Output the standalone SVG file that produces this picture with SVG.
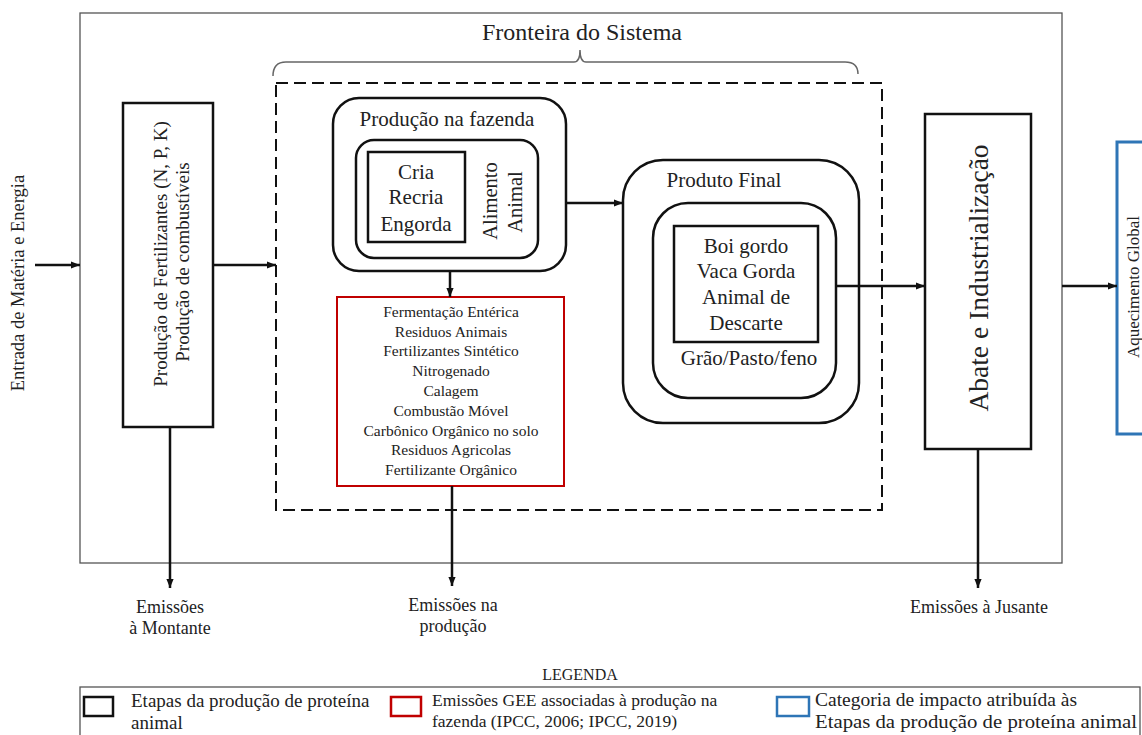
<svg xmlns="http://www.w3.org/2000/svg" width="1142" height="735" viewBox="0 0 1142 735">
<style>
text{font-family:"Liberation Serif","Times New Roman",serif;fill:#222}
.box{fill:none;stroke:#111;stroke-width:2.5}
.thin{fill:none;stroke:#555;stroke-width:1.3}
.red{fill:none;stroke:#c00000;stroke-width:2}
.blue{fill:none;stroke:#2e75b6;stroke-width:3}
.dash{fill:none;stroke:#111;stroke-width:2;stroke-dasharray:12 6}
.conn{fill:none;stroke:#111;stroke-width:2.5}
.m{text-anchor:middle}
</style>
<defs>
<marker id="arr" viewBox="0 0 10 8" refX="10" refY="4" markerWidth="9" markerHeight="7.5" markerUnits="userSpaceOnUse" orient="auto">
<path d="M0,0 L10,4 L0,8 z" fill="#111"/>
</marker>
</defs>
<rect width="1142" height="735" fill="#fff"/>

<g id="system-boundary">
<rect class="thin" x="80" y="13" width="982" height="550"/>
<path d="M273,76 Q273,62 286,62 L574,62 Q580,62 580,50 Q580,62 586,62 L845,62 Q858,62 858,74" fill="none" stroke="#666" stroke-width="1.5"/>
<text class="m" x="582" y="40" font-size="24">Fronteira do Sistema</text>
</g>

<g id="farm-boundary">
<rect class="dash" x="276" y="83" width="606" height="427"/>
</g>

<g id="input">
<text transform="translate(24,283) rotate(-90)" class="m" font-size="18.5">Entrada de Matéria  e Energia</text>
</g>

<g id="fertilizer">
<rect class="box" x="123" y="103" width="90" height="324"/>
<text transform="translate(167,254) rotate(-90)" class="m" font-size="19">Produção de Fertilizantes  (N, P, K)</text>
<text transform="translate(189,262) rotate(-90)" class="m" font-size="19">Produção de combustíveis</text>
</g>

<g id="farm-production">
<rect class="box" x="333" y="98" width="233" height="173" rx="26"/>
<text class="m" x="447" y="126" font-size="21">Produção na fazenda</text>
<rect class="box" x="356" y="140" width="182" height="118" rx="18"/>
<rect class="box" x="368" y="152" width="97" height="90" stroke-width="2"/>
<text class="m" x="416" y="179" font-size="21">Cria</text>
<text class="m" x="416" y="204" font-size="21">Recria</text>
<text class="m" x="416" y="231" font-size="21">Engorda</text>
<text transform="translate(497,201) rotate(-90)" class="m" font-size="20.5">Alimento</text>
<text transform="translate(522,202) rotate(-90)" class="m" font-size="20.5">Animal</text>
</g>

<g id="emission-sources">
<rect class="red" x="337" y="297" width="227" height="189"/>
<g font-size="15.5" class="m">
<text class="m" x="451" y="317">Fermentação  Entérica</text>
<text class="m" x="451" y="337">Residuos  Animais</text>
<text class="m" x="451" y="356">Fertilizantes  Sintético</text>
<text class="m" x="451" y="376">Nitrogenado</text>
<text class="m" x="451" y="396">Calagem</text>
<text class="m" x="451" y="416">Combustão  Móvel</text>
<text class="m" x="451" y="436">Carbônico  Orgânico  no solo</text>
<text class="m" x="451" y="455">Residuos  Agricolas</text>
<text class="m" x="451" y="475">Fertilizante  Orgânico</text>
</g>
</g>

<g id="final-product">
<rect class="box" x="623" y="160" width="236" height="263" rx="40"/>
<text class="m" x="724" y="187" font-size="21">Produto Final</text>
<rect class="box" x="653" y="203" width="183" height="195" rx="35"/>
<rect class="box" x="674" y="226" width="144" height="116" stroke-width="2"/>
<text class="m" x="746" y="253" font-size="21">Boi gordo</text>
<text class="m" x="746" y="278" font-size="21">Vaca Gorda</text>
<text class="m" x="746" y="304" font-size="21">Animal de</text>
<text class="m" x="746" y="330" font-size="21">Descarte</text>
<text class="m" x="749" y="365" font-size="21">Grão/Pasto/feno</text>
</g>

<g id="slaughter">
<rect class="box" x="925" y="114" width="106" height="335"/>
<text transform="translate(988,278) rotate(-90)" class="m" font-size="27.5">Abate e Industrialização</text>
</g>

<g id="global-warming">
<rect class="blue" x="1117" y="142" width="40" height="292"/>
<text transform="translate(1139,287) rotate(-90)" class="m" font-size="17">Aquecimento  Global</text>
</g>

<g id="outputs">
<text class="m" x="170" y="613" font-size="18">Emissões</text>
<text class="m" x="170" y="634" font-size="18">à Montante</text>
<text class="m" x="453" y="611" font-size="18">Emissões na</text>
<text class="m" x="453" y="632" font-size="18">produção</text>
<text class="m" x="979" y="613" font-size="18">Emissões à Jusante</text>
</g>

<g id="connectors">
<line class="conn" x1="35" y1="265" x2="80" y2="265" marker-end="url(#arr)"/>
<line class="conn" x1="213" y1="265" x2="276" y2="265" marker-end="url(#arr)"/>
<line class="conn" x1="566" y1="203" x2="623" y2="203" marker-end="url(#arr)"/>
<line class="conn" x1="450" y1="271" x2="450" y2="297" marker-end="url(#arr)"/>
<line class="conn" x1="836" y1="286" x2="925" y2="286" marker-end="url(#arr)"/>
<line class="conn" x1="1062" y1="286" x2="1117" y2="286" marker-end="url(#arr)"/>
<line class="conn" x1="170" y1="427" x2="170" y2="588" marker-end="url(#arr)"/>
<line class="conn" x1="452" y1="486" x2="452" y2="586" marker-end="url(#arr)"/>
<line class="conn" x1="978" y1="449" x2="978" y2="588" marker-end="url(#arr)"/>
</g>

<g id="legend">
<text class="m" x="580" y="680" font-size="16">LEGENDA</text>
<rect class="thin" x="80" y="687" width="1060" height="60"/>
<rect x="84" y="697" width="29" height="19" fill="none" stroke="#111" stroke-width="2.5"/>
<text x="131" y="707" font-size="19">Etapas da produção de proteína</text>
<text x="131" y="729" font-size="19">animal</text>
<rect x="391" y="697" width="30" height="19" fill="none" stroke="#c00000" stroke-width="2.5"/>
<text x="432" y="706" font-size="17.5">Emissões GEE associadas à produção na</text>
<text x="432" y="727" font-size="17.5">fazenda (IPCC, 2006; IPCC, 2019)</text>
<rect x="777" y="697" width="32" height="19" fill="none" stroke="#2e75b6" stroke-width="2.5"/>
<text x="815" y="706" font-size="19" textLength="262" lengthAdjust="spacingAndGlyphs">Categoria de impacto atribuída às</text>
<text x="815" y="728" font-size="19" textLength="322" lengthAdjust="spacingAndGlyphs">Etapas da produção de proteína animal</text>
</g>
</svg>
